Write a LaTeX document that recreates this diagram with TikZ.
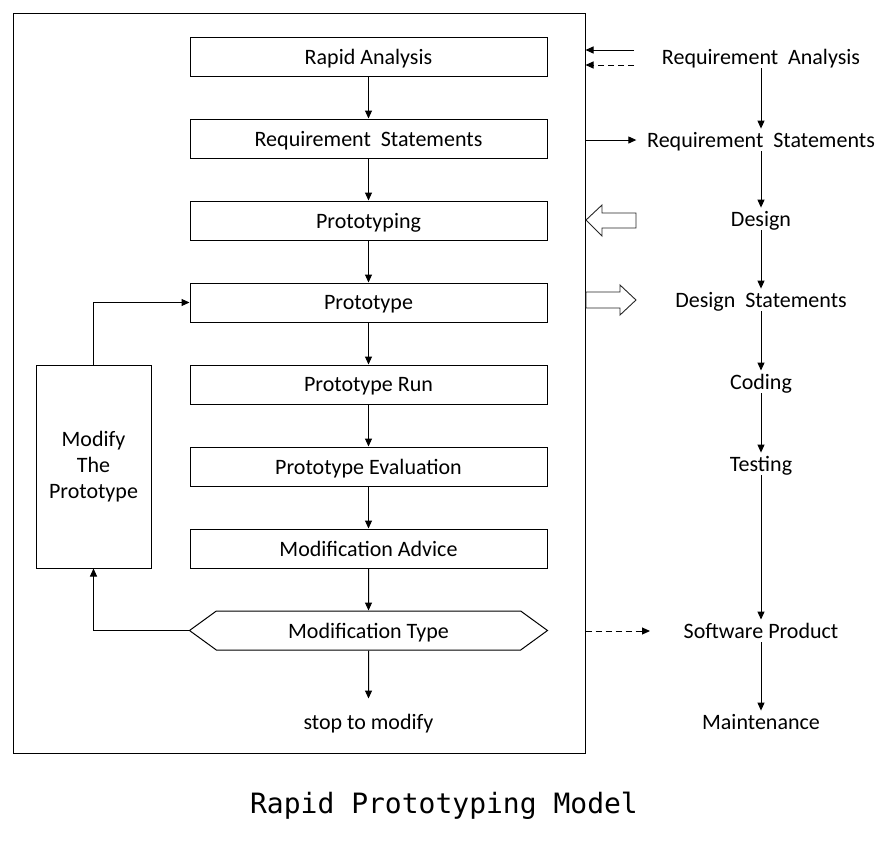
\documentclass[tikz,border=0pt]{standalone}
\usepackage{fontspec}
\setmainfont{Carlito}
\newfontfamily\titlefont{DejaVu Sans Mono}
\usetikzlibrary{positioning, arrows.meta, shapes.symbols}

\begin{document}
\begin{tikzpicture}[->,>={Triangle[length=8pt,width=7pt]},x=1pt,y=-1pt,
                    node distance=42pt,line width=1pt,
                    main node/.style={rectangle,draw,minimum width=357pt,minimum height=39pt,text depth=0pt,font=\fontsize{22}{26}\selectfont},
                    side node/.style={text depth=0pt,font=\fontsize{22}{26}\selectfont},
                    hollow arrow/.style={-,draw=black!85,line width=0.9pt}]

 \useasboundingbox (0,0) rectangle (891,844);
 \node[draw,minimum width=572pt,minimum height=740pt] (frame) at (299,383) {};

 % prototyping steps
 \node[main node] (1) at (368.5,56.5) {Rapid Analysis};
 \node[main node] (2) [below=of 1] {Requirement\ \ Statements};
 \node[main node] (3) [below=of 2] {Prototyping};
 \node[main node] (4) [below=of 3] {Prototype};
 \node[main node] (5) [below=of 4] {Prototype Run};
 \node[main node] (6) [below=of 5] {Prototype Evaluation};
 \node[main node] (7) [below=of 6] {Modification Advice};
 \node[main node,signal,signal to=west and east,signal pointer angle=72,minimum width=358pt] (8) [below=of 7] {Modification Type};
 \node[side node] (9) at (368.5,722) {stop to modify};

 \path
 (1) edge (2)
 (2) edge (3)
 (3) edge (4)
 (4) edge (5)
 (5) edge (6)
 (6) edge (7)
 (7) edge (8)
 (8) edge[shorten >=12pt] (9);

 % loop back
 \node[draw,minimum width=115pt,minimum height=203pt,align=center,font=\fontsize{22}{26}\selectfont] (10) at (93.5,466.5) {Modify\\The\\Prototype};
 \draw (10) |- (4);
 \draw (8) -| (10);

 % waterfall steps
 \node[side node] (r1) at (761,57) {Requirement\ \ Analysis};
 \node[side node] (r2) at (761,140) {Requirement\ \ Statements};
 \node[side node] (r3) at (761,219) {Design};
 \node[side node] (r4) at (761,300) {Design\ \ Statements};
 \node[side node] (r5) at (761,382) {Coding};
 \node[side node] (r6) at (761,464) {Testing};
 \node[side node] (r7) at (761,631) {Software Product};
 \node[side node] (r8) at (761,722) {Maintenance};

 \path
 (r1) edge (r2)
 (r2) edge (r3)
 (r3) edge (r4)
 (r4) edge (r5)
 (r5) edge (r6)
 (r6) edge (r7)
 (r7) edge (r8);

 % links between the two
 \coordinate (p1) at (634,50);
 \coordinate (p2) at (634,65);
 \coordinate (p3) at (650,631);
 \draw (p1) -- (p1 -| frame.east);
 \draw[dash pattern=on 6pt off 4pt] (p2) -- (p2 -| frame.east);
 \draw[shorten >=7pt] (frame.east |- r2) -- (r2);
 \draw[dash pattern=on 6pt off 4pt] (frame.east |- p3) -- (p3);
 \draw[hollow arrow] (586,220) -- (602,205) -- (602,213) -- (636,213) -- (636,228) -- (602,228) -- (602,236) -- cycle;
 \draw[hollow arrow] (586,292) -- (620,292) -- (620,285) -- (636,300) -- (620,315) -- (620,308) -- (586,308) -- cycle;

 \node[font=\titlefont\fontsize{28}{32}\selectfont] (title) at (444,806) {Rapid Prototyping Model};

\end{tikzpicture}
\end{document}
